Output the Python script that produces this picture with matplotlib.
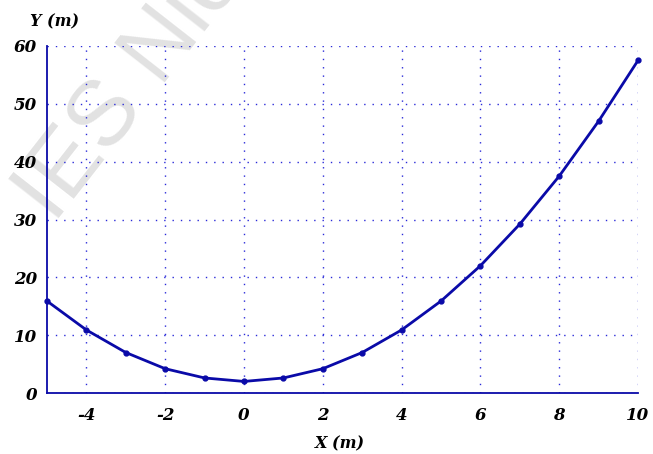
import numpy as np
import matplotlib
matplotlib.use("Agg")
import matplotlib.pyplot as plt

plt.rcParams["axes.unicode_minus"] = False

# data
x_vals = [-5, -4, -3, -2, -1, 0, 1, 2, 3, 4, 5, 6, 7, 8, 9, 10]
y_vals = [15.9, 10.9, 7.0, 4.2, 2.6, 2.0, 2.6, 4.2, 7.0, 10.9, 15.9, 22.0, 29.2, 37.5, 47.0, 57.5]
x_ticks = [-4, -2, 0, 2, 4, 6, 8, 10]
y_ticks = [0, 10, 20, 30, 40, 50, 60]

blue = "#0a0aa8"
grid_blue = "#2a2ad8"

fig = plt.figure(figsize=(6.53, 4.54), dpi=100)
ax = fig.add_axes([47/653, 1-393/454, (638-47)/653, (393-46)/454])

# marca de agua (detras de todo)
fig.text(54/653, 1-224/454, "IES Nic", rotation=52, rotation_mode="anchor",
         ha="left", va="baseline", fontsize=66, color="#e2e2e2",
         family="Liberation Sans", zorder=-1)

ax.plot(x_vals, y_vals, color=blue, linewidth=2, marker="o", markersize=3.5,
        clip_on=False, zorder=5)

ax.set_xlim(-5, 10)
ax.set_ylim(0, 60)
ax.set_xticks(x_ticks)
ax.set_yticks(y_ticks)
ax.patch.set_alpha(0)

ax.grid(True, linestyle=(0, (1, 5)), color=grid_blue, linewidth=1.0)
ax.spines["top"].set_visible(False)
ax.spines["right"].set_visible(False)
ax.spines["left"].set_color(blue)
ax.spines["bottom"].set_color(blue)
ax.spines["left"].set_linewidth(1.3)
ax.spines["bottom"].set_linewidth(1.3)
ax.tick_params(length=0, pad=10)
ax.tick_params(axis="y", pad=7)

tick_font = dict(family="DejaVu Serif", weight="bold", style="italic", size=12)
for lab in ax.get_xticklabels() + ax.get_yticklabels():
    lab.set_fontproperties(matplotlib.font_manager.FontProperties(**tick_font))

fig.text(55/653, 1-22/454, "Y (m)", ha="center", va="center",
         family="DejaVu Serif", weight="bold", style="italic", fontsize=11.5)
fig.text(340/653, 1-444/454, "X (m)", ha="center", va="center",
         family="DejaVu Serif", weight="bold", style="italic", fontsize=11.5)

fig.savefig("out.png", dpi=100)
